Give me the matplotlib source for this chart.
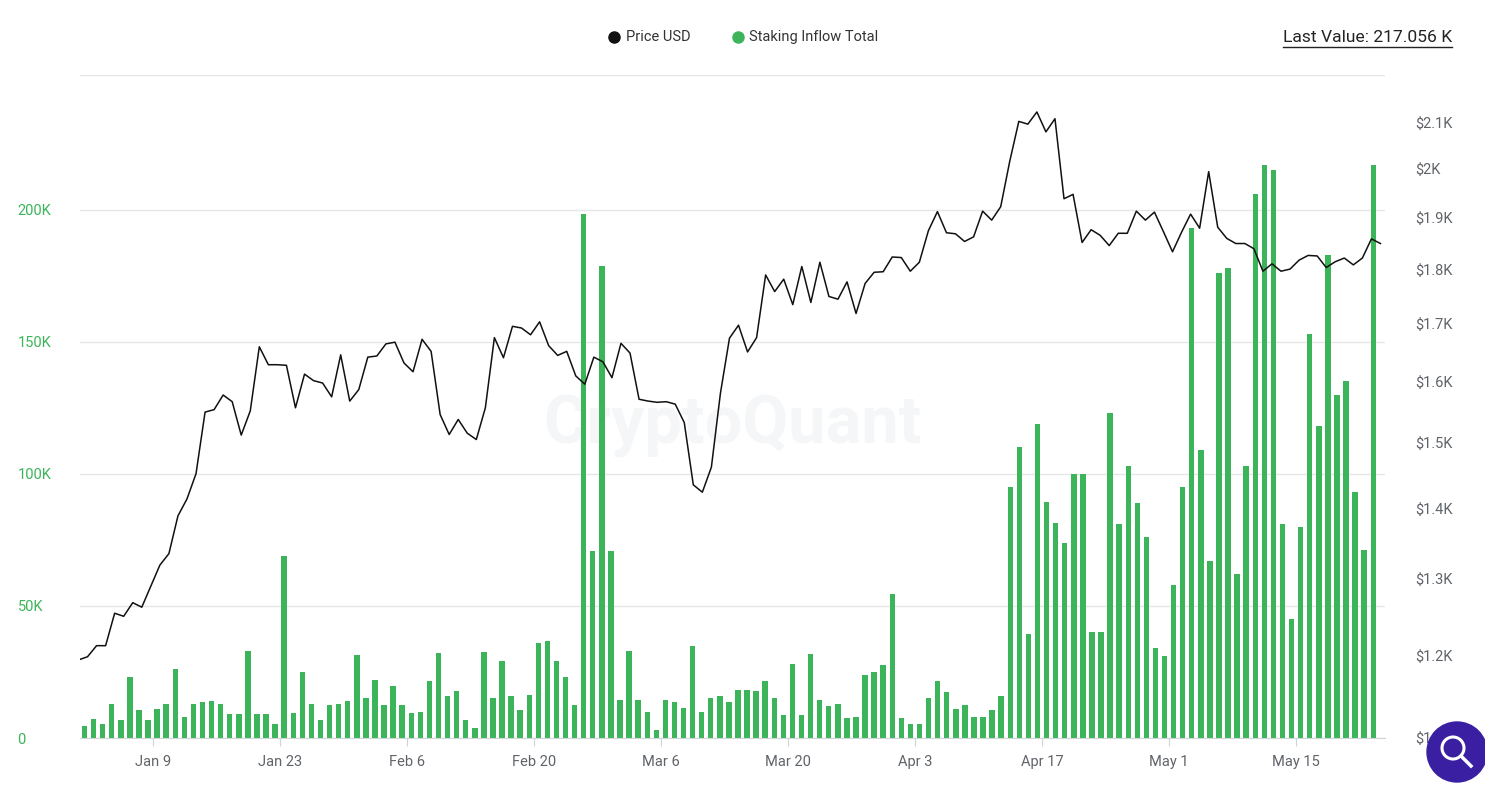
import matplotlib
matplotlib.use('Agg')
import numpy as np
import datetime as dt
import matplotlib.pyplot as plt
import matplotlib.dates as mdates
import matplotlib.patches as mpatches
import matplotlib.ticker as mticker

# daily staking inflow (K), Jan 1 .. May 23
inflow_k = [
    4.4, 7.3, 5.4, 13, 6.8, 23, 10.5, 6.8, 11, 13, 26, 8, 13, 13.5, 14, 13, 9, 9, 33, 9,
    9, 5.4, 69, 9.3, 25, 13, 6.8, 12.4, 13, 14, 31.5, 15, 22, 12.4, 19.7, 12.4, 9.3,
    10, 21.5, 32, 15.8, 17.8, 6.8, 3.9, 32.4, 15, 29, 15.8, 10.7, 16.3, 35.8, 36.6, 29,
    23, 12.4, 198.5, 70.8, 178.8, 70.8, 14.4, 33, 14.4, 10, 3, 14.4, 13.5, 11.5, 34.7,
    9.7, 15, 15.8, 13.5, 18.3,
    18.3, 17.8, 21.5, 15.3, 8.8, 28, 8.8, 31.9, 14.4, 12, 12.9, 7.6, 8.1, 23.7, 25, 27.6,
    54.7, 7.6, 5.4, 5.4, 15.3, 21.5, 17.5, 11, 12.4, 8.1, 8.1, 10.5, 15.8, 95, 110, 39.5,
    119, 89.5, 81.4,
    74, 100, 100, 40, 40, 123, 81, 103, 89, 76, 34, 31, 58, 95, 193, 109, 67, 176, 178,
    62, 103, 206, 217, 215, 81, 45, 80, 153, 118, 183, 130, 135, 93, 71, 217.056,
]

# price USD
price = [
    1194, 1198, 1212, 1212, 1254, 1250, 1268, 1262, 1290, 1319, 1335, 1389, 1414, 1452,
    1549, 1553, 1577, 1566, 1512, 1551, 1659, 1628, 1628, 1627, 1556, 1612, 1601, 1597,
    1574, 1645, 1567, 1586, 1641, 1643, 1664, 1667, 1631, 1616,
    1672, 1651, 1545, 1513, 1537, 1515, 1505, 1556, 1675, 1640, 1695, 1692, 1680, 1703,
    1661, 1644, 1651, 1609, 1595, 1641, 1633, 1606, 1665, 1648, 1570, 1567, 1565, 1566,
    1562, 1532, 1435, 1424, 1462, 1580, 1674, 1697,
    1650, 1675, 1789, 1758, 1781, 1734, 1805, 1738, 1813, 1749, 1744, 1776, 1718, 1773,
    1794, 1795, 1823, 1822, 1796, 1813, 1874, 1912, 1870, 1868, 1853, 1862, 1913, 1895,
    1922, 2016, 2102, 2096, 2123, 2079, 2108,
    1938, 1947, 1851, 1876, 1865, 1845, 1869, 1869, 1913, 1895, 1911, 1872, 1833, 1871,
    1907, 1879, 1994, 1881, 1859, 1849, 1849, 1839, 1796, 1810, 1796, 1800, 1817, 1826,
    1825, 1803, 1814, 1821, 1808, 1821, 1858, 1849,
]

left_ticks = [0, 50, 100, 150, 200]
right_ticks = [1100, 1200, 1300, 1400, 1500, 1600, 1700, 1800, 1900, 2000, 2100]
x_ticks = ['2023-01-09', '2023-01-23', '2023-02-06', '2023-02-20', '2023-03-06',
           '2023-03-20', '2023-04-03', '2023-04-17', '2023-05-01', '2023-05-15']

GREEN = '#3cb55a'
GREY = '#5f6368'

start = dt.datetime(2023, 1, 1)
bar_dates = [start + dt.timedelta(days=i, hours=12) for i in range(len(inflow_k))]
p0 = mdates.date2num(dt.datetime(2022, 12, 31, 20))
p1 = mdates.date2num(dt.datetime(2023, 5, 24, 7))
price_x = np.linspace(p0, p1, len(price))

plt.rcParams['font.family'] = 'Roboto'
fig = plt.figure(figsize=(14.85, 7.9), dpi=100)
ax = fig.add_axes([80 / 1485, 52 / 790, 1305 / 1485, 663 / 790])
ax2 = ax.twinx()

ax.text(0.5, 0.47, 'CryptoQuant', fontsize=48, color='#f5f6f8', ha='center', va='center',
        transform=ax.transAxes, zorder=1, fontweight='bold')
ax.bar(mdates.date2num(bar_dates), inflow_k, width=0.6, color=GREEN, zorder=2)
ax.set_ylim(0, 251)
ax.set_xlim(mdates.date2num(dt.datetime(2023, 1, 1)), mdates.date2num(dt.datetime(2023, 5, 24, 19)))
ax.set_yticks(left_ticks)
ax.set_yticklabels(['0'] + ['%dK' % v for v in left_ticks[1:]], color=GREEN, fontsize=10.5)
ax.tick_params(axis='y', length=0, pad=45)
for lab in ax.get_yticklabels():
    lab.set_horizontalalignment('left')
ax.set_xticks([mdates.date2num(dt.datetime.strptime(d, '%Y-%m-%d')) for d in x_ticks])
ax.xaxis.set_major_formatter(mdates.DateFormatter('%b %-d'))
ax.tick_params(axis='x', colors='#d0d3d8', labelcolor=GREY, labelsize=10.5, length=6, pad=6)
ax.grid(axis='y', color='#e6e6e6', linewidth=1, zorder=0)
ax.axhline(251, color='#e6e6e6', linewidth=1)
for s in ['top', 'right', 'left']:
    ax.spines[s].set_visible(False)
ax.spines['bottom'].set_color('#d0d3d8')

ax2.plot(price_x, price, color='#111111', linewidth=1.1, zorder=3)
ax2.set_yscale('log')
ax2.set_ylim(1100, 2207)
ax2.yaxis.set_major_locator(mticker.FixedLocator(right_ticks))
ax2.yaxis.set_minor_locator(mticker.NullLocator())
ax2.set_yticklabels(['$%.1fK' % (v / 1000) if v % 1000 else '$%dK' % (v // 1000) for v in right_ticks],
                    color=GREY, fontsize=10.5)
ax2.tick_params(axis='y', length=0, pad=22)
for s in ['top', 'right', 'left', 'bottom']:
    ax2.spines[s].set_visible(False)

# legend
fig.lines.append(plt.Line2D([614 / 1485], [1 - 37 / 790], marker='o', color='#111111',
                            markersize=8, transform=fig.transFigure))
fig.text(626 / 1485, 1 - 37 / 790, 'Price USD', fontsize=10.5, color='#333333', va='center')
fig.lines.append(plt.Line2D([738 / 1485], [1 - 37 / 790], marker='o', color=GREEN,
                            markersize=8, transform=fig.transFigure))
fig.text(749 / 1485, 1 - 37 / 790, 'Staking Inflow Total', fontsize=10.5, color='#333333', va='center')

fig.text(1452 / 1485, 1 - 38 / 790, 'Last Value: 217.056 K', fontsize=12.6, color='#222222',
         ha='right', va='center')
fig.lines.append(plt.Line2D([1283 / 1485, 1452 / 1485], [1 - 47 / 790, 1 - 47 / 790],
                            color='#222222', linewidth=1, transform=fig.transFigure))

# search button
circ = mpatches.Ellipse((1457 / 1485, 1 - 752 / 790), 60 / 1485, 60 / 790, color='#3b1fa3',
                        transform=fig.transFigure, zorder=5)
fig.patches.append(circ)
ring = mpatches.Ellipse((1453 / 1485, 1 - 748 / 790), 22 / 1485, 22 / 790, fill=False,
                        edgecolor='white', linewidth=2.2, transform=fig.transFigure, zorder=6)
fig.patches.append(ring)
fig.lines.append(plt.Line2D([1461 / 1485, 1471 / 1485], [1 - 756 / 790, 1 - 766 / 790],
                            color='white', linewidth=2.5, transform=fig.transFigure, zorder=6))

fig.savefig('out.png', dpi=100)
